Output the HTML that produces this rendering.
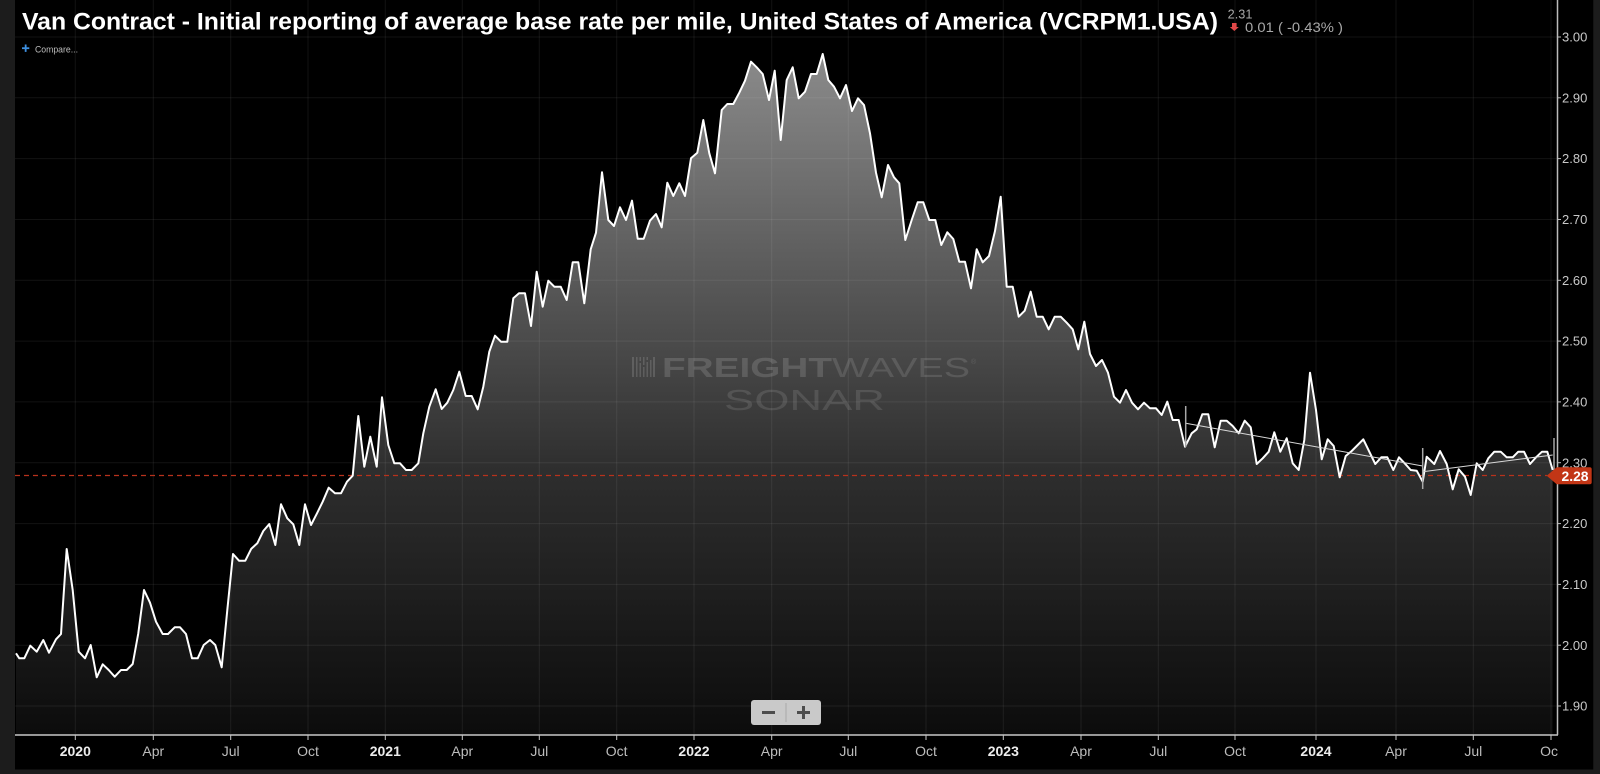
<!DOCTYPE html>
<html>
<head>
<meta charset="utf-8">
<style>
  html, body { margin:0; padding:0; background:#000; }
  body { width:1600px; height:774px; overflow:hidden; }
  svg { display:block; }
  text { font-family: "Liberation Sans", "DejaVu Sans", sans-serif; }
</style>
</head>
<body>
<svg width="1600" height="774" viewBox="0 0 1600 774" xmlns="http://www.w3.org/2000/svg">
  <defs>
    <linearGradient id="fillg" gradientUnits="userSpaceOnUse" x1="0" y1="40" x2="0" y2="735">
      <stop offset="0" stop-color="#8e8e8e"/>
      <stop offset="0.619" stop-color="#2e2e2e"/>
      <stop offset="1" stop-color="#0c0c0c"/>
    </linearGradient>
    <clipPath id="plotclip"><rect x="15" y="0" width="1542" height="735"/></clipPath>
    <clipPath id="xlabclip"><rect x="15" y="736" width="1543" height="34"/></clipPath>
  </defs>

  <!-- background -->
  <rect x="0" y="0" width="1600" height="774" fill="#000"/>

  <!-- area fill -->
  <g clip-path="url(#plotclip)">
    <polygon fill="url(#fillg)" points="
16,653.3 19.3,658.3 24.3,658.3 30.3,645.7 36.7,651.7 43.3,640 49,652.7 56,639.3 61,634 66.7,549 72.7,590 78.7,651.7 85,658.3 90.7,645 96.7,677.3 102.7,664.3 108.7,670 114.7,676.7 121,670 126.7,670 132.7,664 138.3,633.3 144,590 150,602.7 156,621.7 162.7,634 168,634 174.7,627.3 180,627.3 186,634 192,658.3 197.7,658.3 203.7,645 210,640 215.3,645 221.7,667.3 227.3,610 233,554 239,560.7 245.3,560.7 251.3,548.7 257.3,543.3 263.3,531 269.3,524 275.3,545 281,504.3 287.3,518.3 293.3,524.3 299.3,545 305,504.3 311,525 317,513.3 322.7,501.7 328.7,487.7 335,493.3 341,493.3 347,481.7 352.7,475.7 358.3,416 364.3,466.7 370.3,436.7 376.7,466.7 382,397.3 388.3,445 394.3,463.3 400,463.3 406,470 411.7,470 418.3,463.3
423.3,433.3 429.3,406.7 435.7,389.3 441.7,409 447.3,402.7 453.3,390 459.3,371.7 465.7,396 471.7,396 477.7,409.3 483.3,386.7 489.3,351.7 495,335.7 501,341.7 507.3,341.7 513.3,298.3 519,293.3 525,293.3 531,326 536.7,271.7 542.7,306.7 548.3,280.7 554.3,286.7 560.7,286.7 566.7,300 572.7,262.3 578.3,262.3 584.3,303.3 590.7,249.3 596,232.7 602,172.3 608.3,220 614,226 620,207.3 626,220 632,200.7 637.7,238.7 643.7,238.7 650,220.7 656,214 661.7,227.3 667.3,182.7 673.3,196 679.3,183.3 685,196 691,158.3 697.3,152.7 703.3,120 709.3,153.3 715,173.3 721.7,110 727.3,104 733.3,104 739.3,92.7 745,80.7 751,61.7 756.7,67.3 762.7,74 769,100 774.7,70.7 780.7,140 786.7,80 792.7,67.3 798.7,98.3 805,91.7 811,74 816.7,74
822.7,54 828.3,80 834,86.7 840,98.3 846,85 852,111 858,98.3 864,105 870,133.3 876,172.7 881.7,197.3 888,165 894,177.3 899.3,183.3 905.3,240 911.7,220 917.7,202.3 923.3,202.3 929.3,220 935.3,220 941.3,245 947.3,232.3 953.3,239 959.3,261.7 965,261.7 971,288.3 976.7,249.3 982.7,262.3 989,256 995,231 1000.7,196.7 1006.7,286.7 1012.7,286.7 1018.7,316.7 1024.7,310.7 1030.7,291.7 1036.7,316.7 1042.7,316.7 1048.7,329.3 1054.7,316.7 1060.7,316.7 1066.7,322.7 1072.7,329.3 1078.3,349.3 1084.3,321.7 1090,354 1096,366 1102,360 1108,372.7 1114,396.7 1120,402.7 1126,390 1132,402.7 1138,409.3 1144,402.7 1150,408.3 1156,408.3 1161.7,415 1167.3,401.7 1172.7,420 1178.7,420
1185,446.7 1191.7,433.3 1196.7,429.3 1202.3,414.3 1208.3,414.3 1214.7,447.3 1220.7,420.7 1226.7,420.7 1232.7,426 1238.7,433.3 1244.7,420.7 1250.7,427.3 1256.7,464 1262.7,458.3 1268.7,451.7 1274.3,432.3 1280.3,451.7 1286.7,438.3 1292.7,463.3 1298.7,470 1304.3,440 1310,372.7 1316,410 1321.7,459.3 1327.7,439.3 1333.7,446 1339.7,477.3 1345.7,456 1351.7,451 1357.7,445 1363.3,439.3 1369.3,451.7 1375.3,464 1381.3,457.3 1387.3,457.3 1393.3,470 1399,457.3 1404.7,463.3 1410.7,470 1416.7,470.7 1422.7,481.7 1426.7,456.7 1434.3,464 1440,451 1446.7,464 1452.7,489.3 1458.7,469.3 1465,476.7 1470.7,495 1476.7,463.3 1482.7,470 1488.3,458.3 1494.3,451.7 1500.7,451.7 1506.7,457.3 1512.7,457.3 1518.3,451.7 1524,451.7 1530,464 1536,457.3 1542,451.7 1547.3,451.7 1552.7,470
1552.7,735 16,735"/>
  </g>

  <!-- gridlines -->
  <g stroke="#ffffff" stroke-opacity="0.07" stroke-width="1">
    <line x1="15" y1="37" x2="1557" y2="37"/>
    <line x1="15" y1="97.8" x2="1557" y2="97.8"/>
    <line x1="15" y1="158.6" x2="1557" y2="158.6"/>
    <line x1="15" y1="219.5" x2="1557" y2="219.5"/>
    <line x1="15" y1="280.3" x2="1557" y2="280.3"/>
    <line x1="15" y1="341.1" x2="1557" y2="341.1"/>
    <line x1="15" y1="401.9" x2="1557" y2="401.9"/>
    <line x1="15" y1="462.7" x2="1557" y2="462.7"/>
    <line x1="15" y1="523.6" x2="1557" y2="523.6"/>
    <line x1="15" y1="584.4" x2="1557" y2="584.4"/>
    <line x1="15" y1="645.2" x2="1557" y2="645.2"/>
    <line x1="15" y1="706" x2="1557" y2="706"/>
    <line x1="75.3" y1="0" x2="75.3" y2="735"/>
    <line x1="153.3" y1="0" x2="153.3" y2="735"/>
    <line x1="230.7" y1="0" x2="230.7" y2="735"/>
    <line x1="308" y1="0" x2="308" y2="735"/>
    <line x1="385.3" y1="0" x2="385.3" y2="735"/>
    <line x1="462.3" y1="0" x2="462.3" y2="735"/>
    <line x1="539.3" y1="0" x2="539.3" y2="735"/>
    <line x1="616.7" y1="0" x2="616.7" y2="735"/>
    <line x1="694" y1="0" x2="694" y2="735"/>
    <line x1="771.7" y1="0" x2="771.7" y2="735"/>
    <line x1="848.3" y1="0" x2="848.3" y2="735"/>
    <line x1="926" y1="0" x2="926" y2="735"/>
    <line x1="1003.3" y1="0" x2="1003.3" y2="735"/>
    <line x1="1081" y1="0" x2="1081" y2="735"/>
    <line x1="1158.3" y1="0" x2="1158.3" y2="735"/>
    <line x1="1235" y1="0" x2="1235" y2="735"/>
    <line x1="1316" y1="0" x2="1316" y2="735"/>
    <line x1="1396" y1="0" x2="1396" y2="735"/>
    <line x1="1473.3" y1="0" x2="1473.3" y2="735"/>
    <line x1="1551" y1="0" x2="1551" y2="735"/>
  </g>

  <!-- watermark -->
  <g fill="#ffffff">
    <g fill-opacity="0.14">
      <rect x="632" y="357" width="2" height="20"/>
      <rect x="636" y="357" width="1.5" height="20"/>
      <rect x="639.5" y="357" width="1.5" height="4"/>
      <rect x="639.5" y="363" width="1.5" height="14"/>
      <rect x="643" y="357" width="1.5" height="8"/>
      <rect x="643" y="367" width="1.5" height="10"/>
      <rect x="646.5" y="357" width="1.5" height="3"/>
      <rect x="646.5" y="362" width="1.5" height="15"/>
      <rect x="650" y="360" width="1.5" height="17"/>
      <rect x="653" y="357" width="2" height="20"/>
    </g>
    <text x="662" y="377" font-size="27.5" font-weight="bold" fill-opacity="0.14" textLength="170" lengthAdjust="spacingAndGlyphs">FREIGHT</text>
    <text x="832" y="377" font-size="27.5" fill-opacity="0.12" textLength="138" lengthAdjust="spacingAndGlyphs">WAVES</text>
    <text x="971" y="364" font-size="7" fill-opacity="0.12">®</text>
    <text x="724" y="410" font-size="28.5" fill-opacity="0.11" textLength="161" lengthAdjust="spacingAndGlyphs">SONAR</text>
  </g>

  <!-- red dashed current value line -->
  <line x1="15" y1="475.5" x2="1547" y2="475.5" stroke="#b8321c" stroke-width="1.2" stroke-dasharray="5,4"/>

  <!-- series line -->
  <g clip-path="url(#plotclip)">
    <polyline fill="none" stroke="#ffffff" stroke-width="2" stroke-linejoin="round" points="
16,653.3 19.3,658.3 24.3,658.3 30.3,645.7 36.7,651.7 43.3,640 49,652.7 56,639.3 61,634 66.7,549 72.7,590 78.7,651.7 85,658.3 90.7,645 96.7,677.3 102.7,664.3 108.7,670 114.7,676.7 121,670 126.7,670 132.7,664 138.3,633.3 144,590 150,602.7 156,621.7 162.7,634 168,634 174.7,627.3 180,627.3 186,634 192,658.3 197.7,658.3 203.7,645 210,640 215.3,645 221.7,667.3 227.3,610 233,554 239,560.7 245.3,560.7 251.3,548.7 257.3,543.3 263.3,531 269.3,524 275.3,545 281,504.3 287.3,518.3 293.3,524.3 299.3,545 305,504.3 311,525 317,513.3 322.7,501.7 328.7,487.7 335,493.3 341,493.3 347,481.7 352.7,475.7 358.3,416 364.3,466.7 370.3,436.7 376.7,466.7 382,397.3 388.3,445 394.3,463.3 400,463.3 406,470 411.7,470 418.3,463.3
423.3,433.3 429.3,406.7 435.7,389.3 441.7,409 447.3,402.7 453.3,390 459.3,371.7 465.7,396 471.7,396 477.7,409.3 483.3,386.7 489.3,351.7 495,335.7 501,341.7 507.3,341.7 513.3,298.3 519,293.3 525,293.3 531,326 536.7,271.7 542.7,306.7 548.3,280.7 554.3,286.7 560.7,286.7 566.7,300 572.7,262.3 578.3,262.3 584.3,303.3 590.7,249.3 596,232.7 602,172.3 608.3,220 614,226 620,207.3 626,220 632,200.7 637.7,238.7 643.7,238.7 650,220.7 656,214 661.7,227.3 667.3,182.7 673.3,196 679.3,183.3 685,196 691,158.3 697.3,152.7 703.3,120 709.3,153.3 715,173.3 721.7,110 727.3,104 733.3,104 739.3,92.7 745,80.7 751,61.7 756.7,67.3 762.7,74 769,100 774.7,70.7 780.7,140 786.7,80 792.7,67.3 798.7,98.3 805,91.7 811,74 816.7,74
822.7,54 828.3,80 834,86.7 840,98.3 846,85 852,111 858,98.3 864,105 870,133.3 876,172.7 881.7,197.3 888,165 894,177.3 899.3,183.3 905.3,240 911.7,220 917.7,202.3 923.3,202.3 929.3,220 935.3,220 941.3,245 947.3,232.3 953.3,239 959.3,261.7 965,261.7 971,288.3 976.7,249.3 982.7,262.3 989,256 995,231 1000.7,196.7 1006.7,286.7 1012.7,286.7 1018.7,316.7 1024.7,310.7 1030.7,291.7 1036.7,316.7 1042.7,316.7 1048.7,329.3 1054.7,316.7 1060.7,316.7 1066.7,322.7 1072.7,329.3 1078.3,349.3 1084.3,321.7 1090,354 1096,366 1102,360 1108,372.7 1114,396.7 1120,402.7 1126,390 1132,402.7 1138,409.3 1144,402.7 1150,408.3 1156,408.3 1161.7,415 1167.3,401.7 1172.7,420 1178.7,420
1185,446.7 1191.7,433.3 1196.7,429.3 1202.3,414.3 1208.3,414.3 1214.7,447.3 1220.7,420.7 1226.7,420.7 1232.7,426 1238.7,433.3 1244.7,420.7 1250.7,427.3 1256.7,464 1262.7,458.3 1268.7,451.7 1274.3,432.3 1280.3,451.7 1286.7,438.3 1292.7,463.3 1298.7,470 1304.3,440 1310,372.7 1316,410 1321.7,459.3 1327.7,439.3 1333.7,446 1339.7,477.3 1345.7,456 1351.7,451 1357.7,445 1363.3,439.3 1369.3,451.7 1375.3,464 1381.3,457.3 1387.3,457.3 1393.3,470 1399,457.3 1404.7,463.3 1410.7,470 1416.7,470.7 1422.7,481.7 1426.7,456.7 1434.3,464 1440,451 1446.7,464 1452.7,489.3 1458.7,469.3 1465,476.7 1470.7,495 1476.7,463.3 1482.7,470 1488.3,458.3 1494.3,451.7 1500.7,451.7 1506.7,457.3 1512.7,457.3 1518.3,451.7 1524,451.7 1530,464 1536,457.3 1542,451.7 1547.3,451.7 1552.7,470"/>
  </g>

  <!-- trend lines and markers -->
  <g stroke="#d8d8d8" stroke-width="1">
    <line x1="1185.7" y1="423.3" x2="1422.7" y2="466"/>
    <line x1="1422.7" y1="471.7" x2="1552.7" y2="455"/>
  </g>
  <g stroke="#a8a8a8" stroke-width="1.5">
    <line x1="1185.7" y1="406" x2="1185.7" y2="447"/>
    <line x1="1422.7" y1="448" x2="1422.7" y2="489"/>
    <line x1="1554" y1="438" x2="1554" y2="472"/>
  </g>

  <!-- axes -->
  <line x1="15" y1="735" x2="1558" y2="735" stroke="#c8c8c8" stroke-width="1.5"/>
  <line x1="1557.5" y1="0" x2="1557.5" y2="735" stroke="#bdbdbd" stroke-width="1.5"/>

  <!-- y ticks -->
  <g stroke="#bdbdbd" stroke-width="1">
    <line x1="1557" y1="37" x2="1561" y2="37"/>
    <line x1="1557" y1="97.8" x2="1561" y2="97.8"/>
    <line x1="1557" y1="158.6" x2="1561" y2="158.6"/>
    <line x1="1557" y1="219.5" x2="1561" y2="219.5"/>
    <line x1="1557" y1="280.3" x2="1561" y2="280.3"/>
    <line x1="1557" y1="341.1" x2="1561" y2="341.1"/>
    <line x1="1557" y1="401.9" x2="1561" y2="401.9"/>
    <line x1="1557" y1="462.7" x2="1561" y2="462.7"/>
    <line x1="1557" y1="523.6" x2="1561" y2="523.6"/>
    <line x1="1557" y1="584.4" x2="1561" y2="584.4"/>
    <line x1="1557" y1="645.2" x2="1561" y2="645.2"/>
    <line x1="1557" y1="706" x2="1561" y2="706"/>
  </g>
  <g fill="#c8c8c8" font-size="13">
    <text x="1562" y="41.6">3.00</text>
    <text x="1562" y="102.4">2.90</text>
    <text x="1562" y="163.2">2.80</text>
    <text x="1562" y="224.1">2.70</text>
    <text x="1562" y="284.9">2.60</text>
    <text x="1562" y="345.7">2.50</text>
    <text x="1562" y="406.5">2.40</text>
    <text x="1562" y="467.3">2.30</text>
    <text x="1562" y="528.2">2.20</text>
    <text x="1562" y="589">2.10</text>
    <text x="1562" y="649.8">2.00</text>
    <text x="1562" y="710.6">1.90</text>
  </g>

  <!-- current value label -->
  <path d="M1546.7,475.8 L1556.7,467.3 L1589.7,467.3 Q1591.7,467.3 1591.7,469.3 L1591.7,482.3 Q1591.7,484.3 1589.7,484.3 L1556.7,484.3 Z" fill="#c23616"/>
  <text x="1561.5" y="481" font-size="14" font-weight="bold" fill="#ffffff" textLength="27" lengthAdjust="spacingAndGlyphs">2.28</text>

  <!-- x ticks -->
  <g stroke="#c8c8c8" stroke-width="1">
    <line x1="75.3" y1="735" x2="75.3" y2="740"/>
    <line x1="153.3" y1="735" x2="153.3" y2="740"/>
    <line x1="230.7" y1="735" x2="230.7" y2="740"/>
    <line x1="308" y1="735" x2="308" y2="740"/>
    <line x1="385.3" y1="735" x2="385.3" y2="740"/>
    <line x1="462.3" y1="735" x2="462.3" y2="740"/>
    <line x1="539.3" y1="735" x2="539.3" y2="740"/>
    <line x1="616.7" y1="735" x2="616.7" y2="740"/>
    <line x1="694" y1="735" x2="694" y2="740"/>
    <line x1="771.7" y1="735" x2="771.7" y2="740"/>
    <line x1="848.3" y1="735" x2="848.3" y2="740"/>
    <line x1="926" y1="735" x2="926" y2="740"/>
    <line x1="1003.3" y1="735" x2="1003.3" y2="740"/>
    <line x1="1081" y1="735" x2="1081" y2="740"/>
    <line x1="1158.3" y1="735" x2="1158.3" y2="740"/>
    <line x1="1235" y1="735" x2="1235" y2="740"/>
    <line x1="1316" y1="735" x2="1316" y2="740"/>
    <line x1="1396" y1="735" x2="1396" y2="740"/>
    <line x1="1473.3" y1="735" x2="1473.3" y2="740"/>
    <line x1="1551" y1="735" x2="1551" y2="740"/>
  </g>
  <g clip-path="url(#xlabclip)" font-size="14" text-anchor="middle">
    <g fill="#ececec" font-weight="bold">
      <text x="75.3" y="756">2020</text>
      <text x="385.3" y="756">2021</text>
      <text x="694" y="756">2022</text>
      <text x="1003.3" y="756">2023</text>
      <text x="1316" y="756">2024</text>
    </g>
    <g fill="#bdbdbd">
      <text x="153.3" y="756">Apr</text>
      <text x="230.7" y="756">Jul</text>
      <text x="308" y="756">Oct</text>
      <text x="462.3" y="756">Apr</text>
      <text x="539.3" y="756">Jul</text>
      <text x="616.7" y="756">Oct</text>
      <text x="771.7" y="756">Apr</text>
      <text x="848.3" y="756">Jul</text>
      <text x="926" y="756">Oct</text>
      <text x="1081" y="756">Apr</text>
      <text x="1158.3" y="756">Jul</text>
      <text x="1235" y="756">Oct</text>
      <text x="1396" y="756">Apr</text>
      <text x="1473.3" y="756">Jul</text>
      <text x="1551" y="756">Oct</text>
    </g>
  </g>

  <!-- zoom buttons -->
  <rect x="751" y="700" width="70" height="25" rx="3" ry="3" fill="#c9c9c9"/>
  <line x1="786" y1="703" x2="786" y2="722" stroke="#a9a9a9" stroke-width="1"/>
  <rect x="762" y="711" width="13" height="3" fill="#4d4d4d"/>
  <rect x="797" y="711" width="13" height="3" fill="#4d4d4d"/>
  <rect x="802" y="706" width="3" height="13" fill="#4d4d4d"/>

  <!-- title -->
  <text x="22" y="29.3" font-size="24" font-weight="bold" fill="#ffffff" textLength="1196" lengthAdjust="spacingAndGlyphs">Van Contract - Initial reporting of average base rate per mile, United States of America (VCRPM1.USA)</text>
  <text x="1227.7" y="18.3" font-size="12.5" fill="#a8a8a8" textLength="24.7" lengthAdjust="spacingAndGlyphs">2.31</text>
  <polygon points="1232,23 1236.6,23 1236.6,27 1238.8,27 1234.3,31 1229.8,27 1232,27" fill="#e04848"/>
  <text x="1245" y="32" font-size="14" fill="#a8a8a8" textLength="98" lengthAdjust="spacingAndGlyphs">0.01 ( -0.43% )</text>

  <!-- compare -->
  <rect x="22" y="47.3" width="7.3" height="1.8" fill="#3d8fe0"/>
  <rect x="24.75" y="44.5" width="1.8" height="7.4" fill="#3d8fe0"/>
  <text x="35" y="52.5" font-size="9.5" fill="#bdbdbd" textLength="43" lengthAdjust="spacingAndGlyphs">Compare...</text>

  <!-- outer gray frame -->
  <rect x="0" y="0" width="15" height="774" fill="#1c1c1c"/>
  <rect x="0" y="769.5" width="1600" height="4.5" fill="#1c1c1c"/>
  <rect x="1593.3" y="0" width="6.7" height="774" fill="#1c1c1c"/>
</svg>
</body>
</html>
